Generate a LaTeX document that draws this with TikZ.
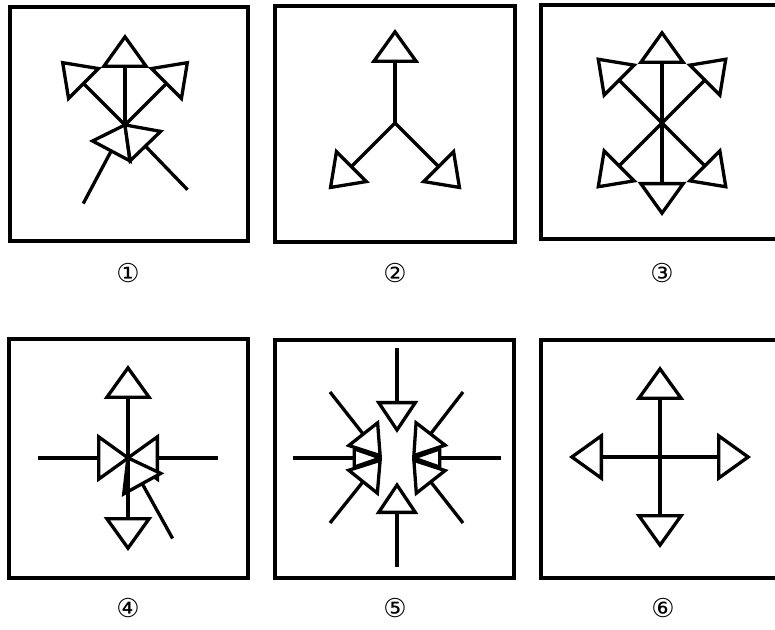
\documentclass[tikz,border=0pt]{standalone}
\usepackage{fontspec}
\newfontfamily\circfont{DejaVu Sans}
\usetikzlibrary{arrows.meta,calc}

\tikzset{
  frame/.style={draw, line width=3.2pt},
  arr/.style={line width=3.3pt, -{Triangle[fill=white, length=34pt, width=48pt]}},
  arrsmall/.style={line width=3.3pt, -{Triangle[fill=white, length=32pt, width=42pt]}},
  arrthin/.style={line width=3.3pt, -{Triangle[round, fill=white, length=33pt, width=22pt]}},
  lbl/.style={font=\circfont\fontsize{26}{26}\selectfont, inner sep=0pt},
}

\begin{document}
\begin{tikzpicture}[x=1pt, y=1pt]
  \useasboundingbox (0,0) rectangle (775,629);
  \clip (0,0) rectangle (775,629);
  \fill[white] (0,0) rectangle (775,629);

  % frames
  \draw[frame] (10,388) rectangle (248,622);
  \draw[frame] (275,387) rectangle (515,623);
  \draw[frame] (541,390) rectangle (790,624);
  \draw[frame] (9,51) rectangle (248,290);
  \draw[frame] (275,51) rectangle (514,289);
  \draw[frame] (541,51) rectangle (790,289);

  % centres of the figures
  \coordinate (c1) at (125,504);
  \coordinate (c2) at (395,506);
  \coordinate (c3) at (662,506);
  \coordinate (c4) at (128,171);
  \coordinate (c5) at (397,171);
  \coordinate (c6) at (660,172);

  % figure 1
  \foreach \a in {45,90,135}
    \draw[arr] (c1) -- ++(\a:91);
  \coordinate (t1a) at ($(c1)+(242:89)$);
  \coordinate (t1b) at ($(c1)+(314:90)$);
  \draw[arr] (t1a) -- ($(c1)+(62:3)$);
  \draw[arr] (t1b) -- ($(c1)+(134:3)$);

  % figure 2
  \foreach \a in {90,225,315}
    \draw[arr] (c2) -- ++(\a:94);

  % figure 3
  \foreach \a in {45,90,135,225,270,315}
    \draw[arr] (c3) -- ++(\a:93);

  % figure 4
  \foreach \a/\r in {0/90,180/90,299/92} {
    \coordinate (t4) at ($(c4)+(\a:\r)$);
    \draw[arr] (t4) -- ($(c4)+(\a+180:3)$);
  }
  \foreach \a in {90,270}
    \draw[arr] (c4) -- ++(\a:93);

  % figure 5
  \coordinate (l5) at ($(c5)+(-15,0)$);
  \coordinate (r5) at ($(c5)+(15,0)$);
  \coordinate (u5) at ($(c5)+(0,25)$);
  \coordinate (d5) at ($(c5)+(0,-24)$);
  \foreach \dy in {66,-65} {
    \draw[arrsmall] ($(c5)+(-67,\dy)$) -- (l5);
    \draw[arrsmall] ($(c5)+(66,\dy)$) -- (r5);
  }
  \draw[arrthin] ($(c5)+(-104,0)$) -- (l5);
  \draw[arrthin] ($(c5)+(104,0)$) -- (r5);
  \draw[arrsmall] ($(c5)+(0,110)$) -- (u5);
  \draw[arrsmall] ($(c5)+(0,-109)$) -- (d5);

  % figure 6
  \foreach \a in {0,90,180,270}
    \draw[arr] (c6) -- ++(\a:91);

  % numbers
  \node[lbl] (n1) at (128,356) {①};
  \node[lbl] (n2) at (395,356) {②};
  \node[lbl] (n3) at (662,356) {③};
  \node[lbl] (n4) at (128,21) {④};
  \node[lbl] (n5) at (395,21) {⑤};
  \node[lbl] (n6) at (663,21) {⑥};
\end{tikzpicture}
\end{document}
